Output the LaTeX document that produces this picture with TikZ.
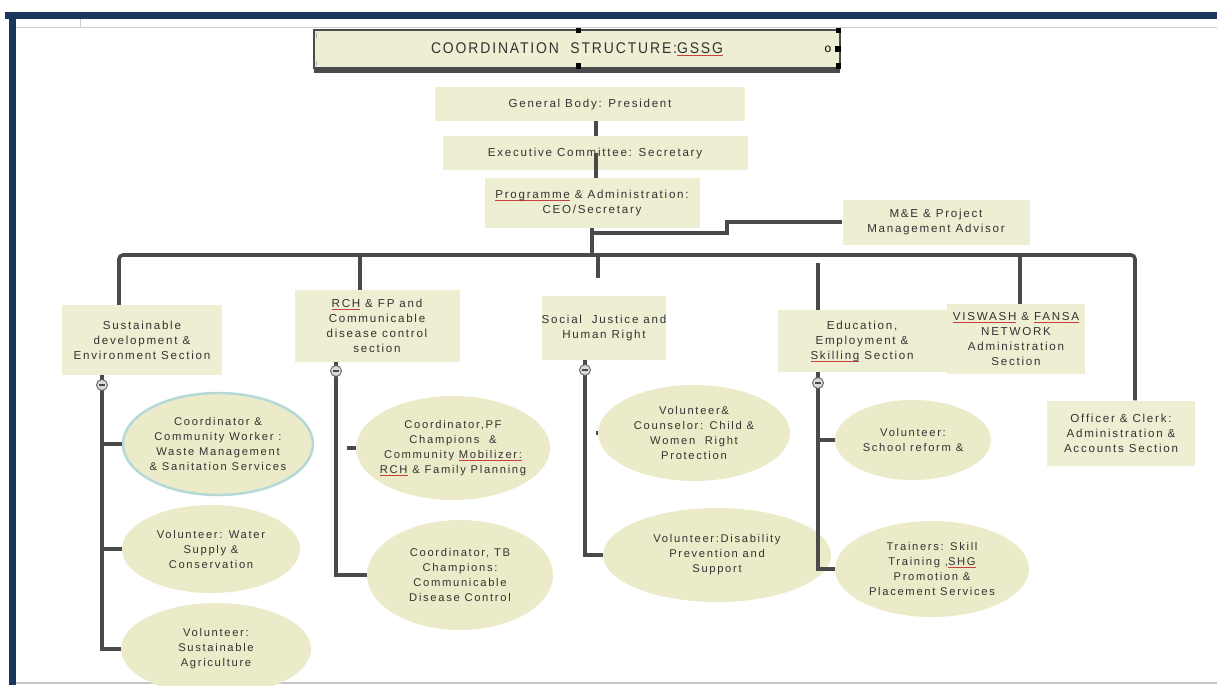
\documentclass[tikz,border=0pt]{standalone}
\usepackage{fontspec}
\setmainfont{Liberation Sans}
\newfontfamily\lab[LetterSpace=15]{Liberation Sans}
\newfontfamily\ttl[LetterSpace=12,FakeStretch=0.9]{Liberation Sans}
\usetikzlibrary{shapes.geometric,calc}
\definecolor{navy}{HTML}{1B365D}
\definecolor{boxfill}{HTML}{EEEED2}
\definecolor{ellfill}{HTML}{EBEBC9}
\definecolor{lin}{HTML}{4A4A4A}
\definecolor{txt}{HTML}{333333}
\definecolor{selring}{HTML}{B5D8D8}
\definecolor{squig}{HTML}{C84040}
\newcommand\sqg[1]{\setbox0\hbox{#1}\rlap{\color{squig}\rule[-2.2pt]{\wd0}{0.7pt}}#1}
\begin{document}
\begin{tikzpicture}[x=1pt,y=-1pt,
  box/.style={rectangle, fill=boxfill, inner sep=0pt, align=center, text=txt,
    font=\lab\fontsize{11.6}{15}\selectfont},
  ell/.style={ellipse, fill=ellfill, inner xsep=-30pt, inner ysep=-10pt, align=center, text=txt,
    font=\lab\fontsize{11.2}{15}\selectfont},
  conn/.style={draw=lin, line width=3.6pt},
  mc/.style={circle, draw=lin!85, fill=gray!30, line width=0.9pt, minimum size=11pt, inner sep=0pt},
  handle/.style={fill=black, minimum size=5pt, inner sep=0pt}]
\useasboundingbox (0,0) rectangle (1217,685);
\clip (0,0) rectangle (1217,685);
\fill[white] (0,0) rectangle (1217,685);
% frame
\fill[navy] (5,12) rectangle (1217,19);
\fill[navy] (9,12) rectangle (16,685);
\draw[gray!40, line width=0.8pt] (16,27) -- (1217,27);
\draw[gray!40, line width=0.8pt] (80,19) -- (80,27);
\draw[gray!45, line width=1.2pt] (16,683) -- (1217,683);
% title
\node[rectangle, fill=boxfill, minimum width=525pt, minimum height=38pt, inner sep=0pt,
  text=txt, font=\ttl\fontsize{15.5}{18}\selectfont] (title) at (577,49) {COORDINATION\ \ STRUCTURE:\sqg{GSSG}};
\draw[lin, line width=2pt] (title.south west) rectangle (title.north east);
\draw[lin, line width=5pt] ([yshift=-2.5pt]title.south west) -- ([yshift=-2.5pt]title.south east);
\node[handle] (h1) at (578,31) {};
\node[handle] (h2) at (578,66) {};
\node[handle] (h3) at (838,31) {};
\node[handle] (h4) at (838,66) {};
\node[handle, minimum size=6pt] (h5) at (838,49) {};
\node[text=black, font=\fontsize{12}{12}\selectfont, inner sep=0pt] (hc) at (828,49) {o};
\draw[gray!60, line width=1pt] (316,33) -- (316,38);
\draw[gray!60, line width=1pt] (316,61) -- (316,66);
% top boxes
\node[box, minimum width=310pt, minimum height=34pt] (gb) at (590,104) {General Body: President};
\node[box, minimum width=305pt, minimum height=34pt] (ec) at (595,153) {Executive Committee: Secretary};
\node[box, minimum width=215pt, minimum height=50pt] (pa) at (592,203) {\sqg{Programme} \& Administration:\\CEO/Secretary};
\node[box, minimum width=187pt, minimum height=45pt] (me) at (936,222) {M\&E \& Project\\Management Advisor};
% sections
\node[box, minimum width=160pt, minimum height=70pt] (sd) at (142,340) {Sustainable\\development \&\\Environment Section};
\node[box, minimum width=165pt, minimum height=72pt] (rch) at (377,326) {\sqg{RCH} \& FP and\\Communicable\\disease control\\section};
\node[box, minimum width=117pt, minimum height=64pt] (sj) at (604,328) {Social\ \ Justice and\\Human Right};
\node[box, minimum width=169pt, minimum height=62pt] (edu) at (862,341) {Education,\\Employment \&\\\sqg{Skilling} Section};
\node[box, minimum width=138pt, minimum height=70pt] (vis) at (1016,339) {\sqg{VISWASH} \& \sqg{FANSA}\\NETWORK\\Administration\\Section};
\node[box, minimum width=148pt, minimum height=65pt] (off) at (1121,433) {Officer \& Clerk:\\Administration \&\\Accounts Section};
% ellipses
\node[ell, draw=selring, line width=2.5pt, minimum width=190pt, minimum height=102pt] (e1) at (218,444) {Coordinator \&\\Community Worker :\\Waste Management\\\& Sanitation Services};
\node[ell, minimum width=194pt, minimum height=104pt] (e2) at (453,448) {Coordinator,PF\\Champions\ \ \&\\Community \sqg{Mobilizer:}\\\sqg{RCH} \& Family Planning};
\node[ell, minimum width=192pt, minimum height=96pt] (e3) at (694,433) {Volunteer\&\\Counselor: Child \&\\Women\ \ Right\\Protection};
\node[ell, minimum width=156pt, minimum height=80pt] (e4) at (913,440) {Volunteer:\\School reform \&};
\node[ell, minimum width=178pt, minimum height=88pt] (e5) at (211,549) {Volunteer: Water\\Supply \&\\Conservation};
\node[ell, minimum width=186pt, minimum height=110pt] (e6) at (460,575) {Coordinator, TB\\Champions:\\Communicable\\Disease Control};
\node[ell, minimum width=228pt, minimum height=94pt] (e7) at (717,555) {Volunteer:Disability\\Prevention and\\Support};
\node[ell, minimum width=194pt, minimum height=96pt] (e8) at (932,569) {Trainers: Skill\\Training ,\sqg{SHG}\\Promotion \&\\Placement Services};
\node[ell, minimum width=190pt, minimum height=92pt] (e9) at (216,649) {Volunteer:\\Sustainable\\Agriculture};
% coordinates
\coordinate (bL) at (119,255);
\coordinate (bR) at (1135,255);
\coordinate (tr) at (596,0);
\coordinate (k1) at (593,233);
\coordinate (k2) at (727,233);
\coordinate (k3) at (727,222);
\coordinate (d2) at (360,255);
\coordinate (d3) at (598,255);
\coordinate (d3e) at (598,278);
\coordinate (d4) at (818,263);
\coordinate (d5) at (1020,255);
\coordinate (c1) at (102,385);
\coordinate (c2) at (336,371);
\coordinate (c3) at (585,370);
\coordinate (c4) at (818,383);
\coordinate (s2) at (347,448);
\coordinate (s3) at (596,433);
% connectors
\draw[conn] (tr |- gb.south) -- (tr |- ec.north);
\draw[conn] (tr |- ec.center) -- (tr |- pa.north);
\draw[conn] (pa.south) -- (pa.south |- bL);
\draw[conn] (k1) -- (k2) -- (k3) -- (me.west);
\draw[conn, rounded corners=4pt] (bL |- sd.north) -- (bL) -- (bR) -- (bR |- off.north);
\draw[conn] (d2) -- (d2 |- rch.north);
\draw[conn] (d3) -- (d3e);
\draw[conn] (d4) -- (d4 |- edu.north);
\draw[conn] (d5) -- (d5 |- vis.north);
% column 1
\draw[conn] (c1 |- sd.south) -- (c1);
\draw[conn] (c1) -- (c1 |- e9.west) -- (e9.west);
\draw[conn] (c1 |- e1.west) -- (e1.west);
\draw[conn] (c1 |- e5.west) -- (e5.west);
% column 2
\draw[conn] (c2 |- rch.south) -- (c2);
\draw[conn] (c2) -- (c2 |- e6.west) -- (e6.west);
\draw[conn] (s2) -- (s2 -| e2.west);
% column 3
\draw[conn] (c3 |- sj.south) -- (c3);
\draw[conn] (c3) -- (c3 |- e7.west) -- (e7.west);
\draw[conn] (s3) -- (s3 -| e3.west);
% column 4
\draw[conn] (c4 |- edu.south) -- (c4);
\draw[conn] (c4) -- (c4 |- e8.west) -- (e8.west);
\draw[conn] (c4 |- e4.west) -- (e4.west);
% minus circles
\foreach \c/\n in {c1/m1, c2/m2, c3/m3, c4/m4}{
  \node[mc] (\n) at (\c) {};
  \draw[lin, line width=1.3pt] ([xshift=-3pt]\n.center) -- ([xshift=3pt]\n.center);
}
\end{tikzpicture}
\end{document}
